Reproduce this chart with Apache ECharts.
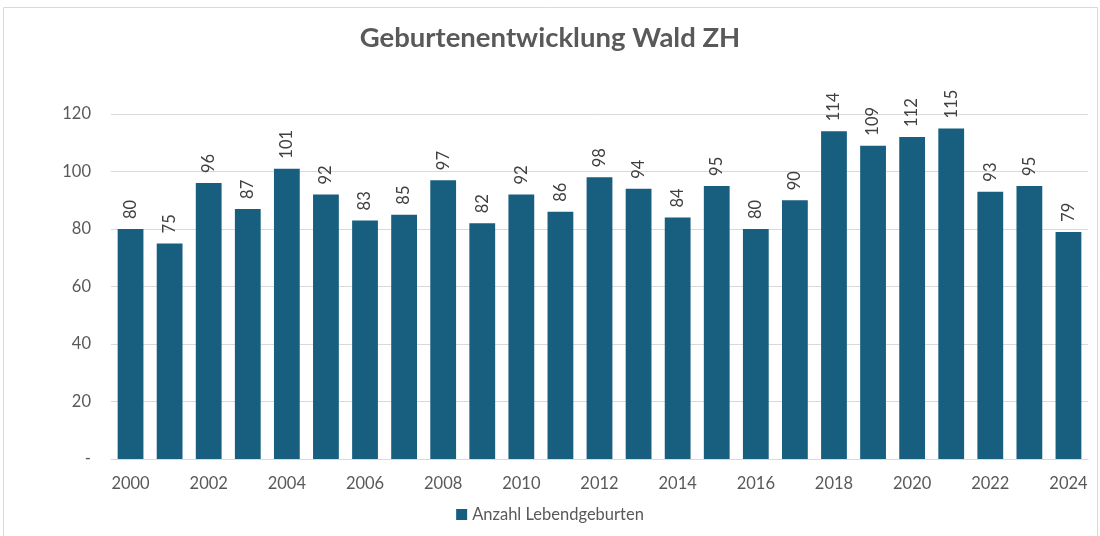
<!DOCTYPE html>
<html>
<head>
<meta charset="utf-8">
<script src="https://cdn.jsdelivr.net/npm/echarts@6/dist/echarts.min.js"></script>
<style>
  html, body { margin: 0; padding: 0; background: #fff; }
  #chart { width: 1100px; height: 536px; }
</style>
</head>
<body>
<div id="chart"></div>
<script>
  // Jahre und Anzahl Lebendgeburten
  const years = ['2000','2001','2002','2003','2004','2005','2006','2007','2008','2009','2010','2011','2012',
                 '2013','2014','2015','2016','2017','2018','2019','2020','2021','2022','2023','2024'];
  const births = [80, 75, 96, 87, 101, 92, 83, 85, 97, 82, 92, 86, 98, 94, 84, 95, 80, 90, 114, 109, 112, 115, 93, 95, 79];
  const seriesName = 'Anzahl Lebendgeburten';

  const font = 'Lato, "Open Sans", sans-serif';
  const myChart = echarts.init(document.getElementById('chart'));
  myChart.setOption({
    animation: false,
    textStyle: { fontFamily: font },
    title: {
      text: 'Geburtenentwicklung Wald ZH',
      left: 'center',
      top: 19,
      textStyle: { fontSize: 27.5, fontWeight: 'bold', color: '#595959', fontFamily: font }
    },
    graphic: [{
      type: 'rect',
      shape: { x: 3.5, y: 7.5, width: 1094, height: 540 },
      style: { fill: 'none', stroke: '#d9d9d9', lineWidth: 1 },
      silent: true
    }],
    legend: {
      data: [seriesName],
      bottom: 8,
      left: 'center',
      itemWidth: 11,
      itemHeight: 11,
      icon: 'rect',
      textStyle: { fontSize: 16.5, color: '#595959' }
    },
    grid: { left: 111, right: 12, top: 114, bottom: 77 },
    xAxis: {
      type: 'category',
      data: years,
      axisTick: { show: false },
      axisLine: { lineStyle: { color: '#d9d9d9' } },
      axisLabel: { interval: 1, fontSize: 16.5, color: '#595959', margin: 16 }
    },
    yAxis: {
      type: 'value',
      min: 0,
      max: 120,
      interval: 20,
      axisLine: { show: false },
      axisTick: { show: false },
      splitLine: { lineStyle: { color: '#d9d9d9' } },
      axisLabel: {
        fontSize: 16.5, color: '#595959', margin: 20,
        formatter: v => v === 0 ? '-' : String(v)
      }
    },
    series: [{
      name: seriesName,
      type: 'bar',
      data: births,
      barCategoryGap: '34%',
      itemStyle: { color: '#175E7F' },
      label: {
        show: true,
        position: 'top',
        rotate: 90,
        align: 'left',
        verticalAlign: 'middle',
        distance: 10,
        fontSize: 16.5,
        color: '#404040'
      }
    }]
  });
</script>
</body>
</html>
